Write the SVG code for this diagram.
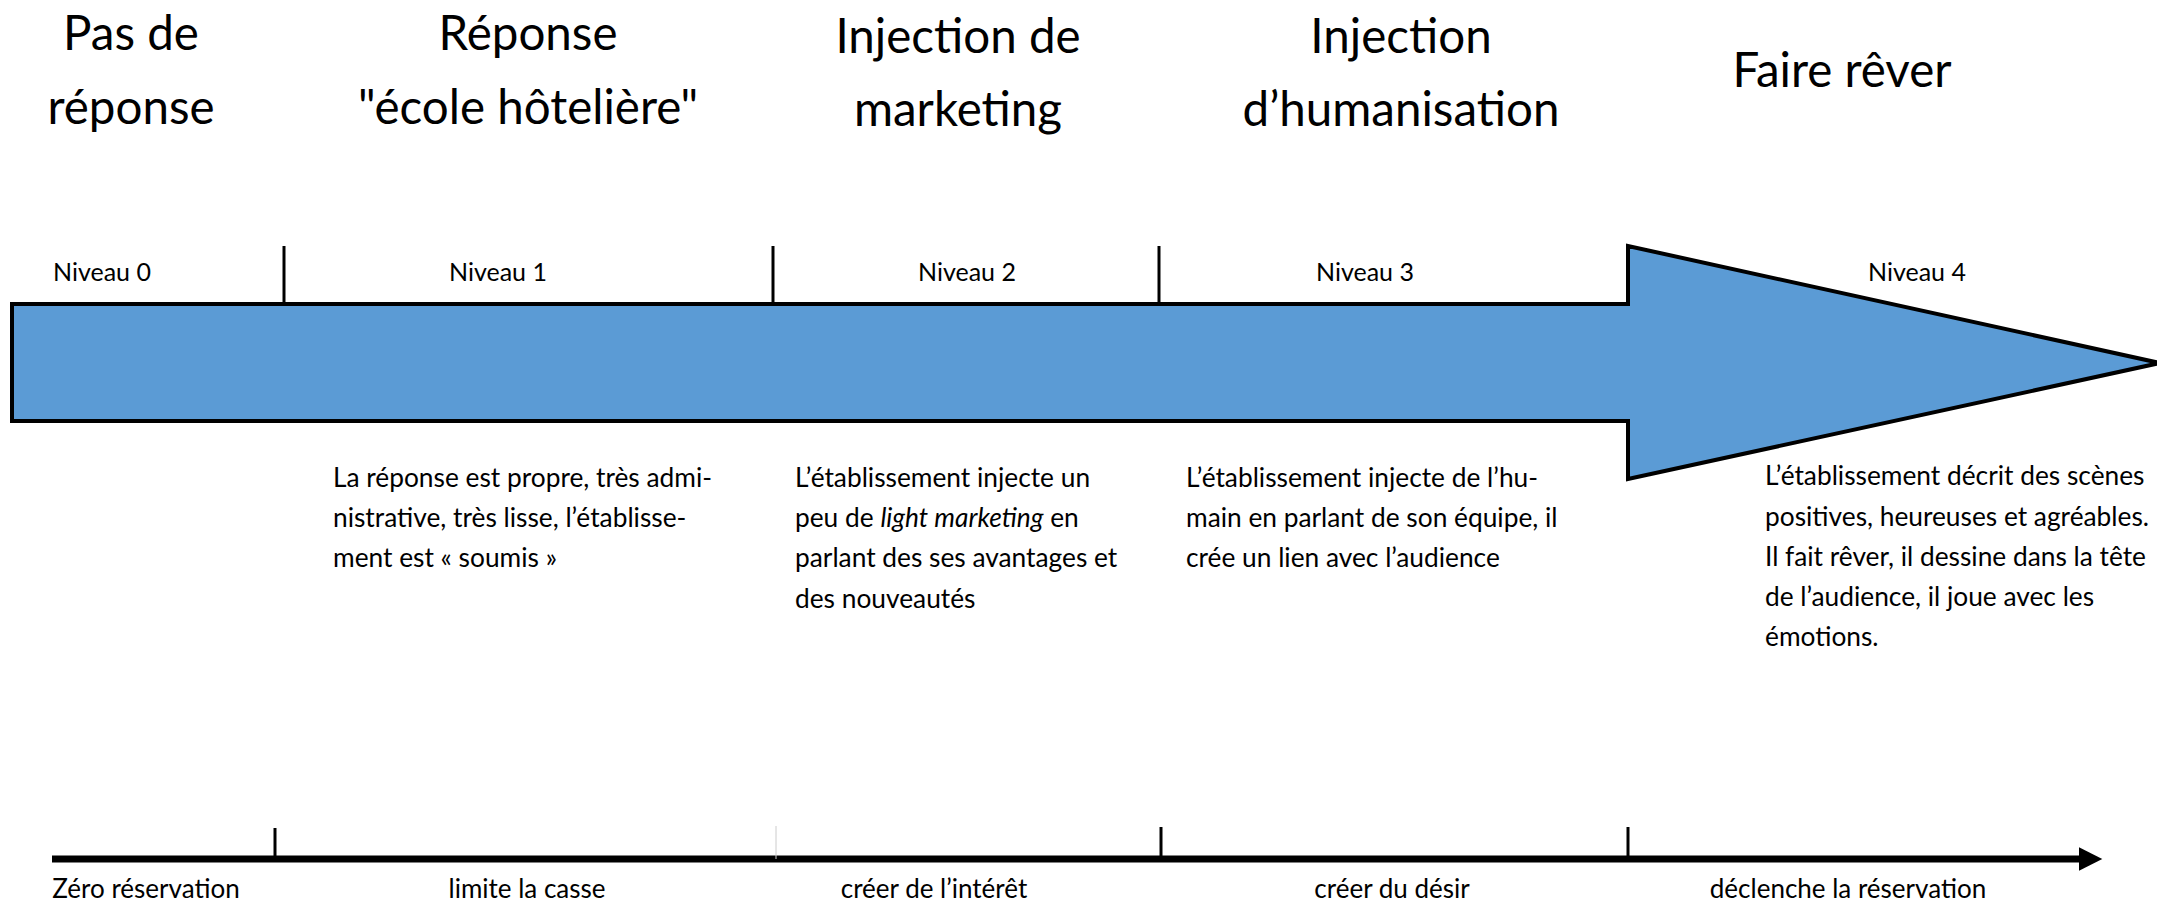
<svg xmlns="http://www.w3.org/2000/svg" width="2157" height="904" viewBox="0 0 2157 904">
<style>
text{font-family:Lato,"Open Sans","Liberation Sans",sans-serif;fill:#000}
.title{font-size:47.5px;text-anchor:middle}
.lvl{font-size:25px;text-anchor:middle}
.desc{font-size:26.3px}
.out{font-size:26px;text-anchor:middle}
.tick{stroke:#000;stroke-width:3}
</style>
<defs>
<marker id="ah" markerWidth="4" markerHeight="4" refX="0.5" refY="2" orient="auto" markerUnits="strokeWidth" viewBox="0 0 4 4">
<path d="M0,0.3 L3.4,2 L0,3.7 Z" fill="#000"/>
</marker>
</defs>
<g id="titles">
<text class="title" x="131" y="50">Pas de</text>
<text class="title" x="131" y="124">réponse</text>
<text class="title" x="528" y="50">Réponse</text>
<text class="title" x="528" y="124">"école hôtelière"</text>
<text class="title" x="958" y="53">Injection de</text>
<text class="title" x="958" y="126">marketing</text>
<text class="title" x="1401" y="53">Injection</text>
<text class="title" x="1401" y="126">d’humanisation</text>
<text class="title" x="1842" y="87">Faire rêver</text>
</g>
<g id="main-arrow">
<polygon points="12,304 1628,304 1628,246 2160,363 1628,479 1628,421 12,421" fill="#5B9BD5" stroke="#000" stroke-width="4" stroke-linejoin="miter"/>
</g>
<g id="levels">
<line class="tick" x1="284" y1="246" x2="284" y2="304"/>
<line class="tick" x1="773" y1="246" x2="773" y2="304"/>
<line class="tick" x1="1159" y1="246" x2="1159" y2="304"/>
<text class="lvl" x="102" y="281">Niveau 0</text>
<text class="lvl" x="498" y="281">Niveau 1</text>
<text class="lvl" x="967" y="281">Niveau 2</text>
<text class="lvl" x="1365" y="281">Niveau 3</text>
<text class="lvl" x="1917" y="281">Niveau 4</text>
</g>
<g id="desc1">
<text class="desc" x="333" y="487">La réponse est propre, très admi-</text>
<text class="desc" x="333" y="527">nistrative, très lisse, l’établisse-</text>
<text class="desc" x="333" y="567">ment est « soumis »</text>
</g>
<g id="desc2">
<text class="desc" x="795" y="487">L’établissement injecte un</text>
<text class="desc" x="795" y="527">peu de <tspan font-style="italic">light marketing</tspan> en</text>
<text class="desc" x="795" y="567">parlant des ses avantages et</text>
<text class="desc" x="795" y="608">des nouveautés</text>
</g>
<g id="desc3">
<text class="desc" x="1186" y="487">L’établissement injecte de l’hu-</text>
<text class="desc" x="1186" y="527">main en parlant de son équipe, il</text>
<text class="desc" x="1186" y="567">crée un lien avec l’audience</text>
</g>
<g id="desc4">
<text class="desc" x="1765" y="485">L’établissement décrit des scènes</text>
<text class="desc" x="1765" y="526">positives, heureuses et agréables.</text>
<text class="desc" x="1765" y="566">Il fait rêver, il dessine dans la tête</text>
<text class="desc" x="1765" y="606">de l’audience, il joue avec les</text>
<text class="desc" x="1765" y="646">émotions.</text>
</g>
<g id="connectors">
<line x1="52" y1="859" x2="2082" y2="859" stroke="#000" stroke-width="7" marker-end="url(#ah)"/>
<line class="tick" x1="275" y1="828" x2="275" y2="859"/>
<line x1="776" y1="826" x2="776" y2="859" stroke="#ccc" stroke-width="1"/>
<line class="tick" x1="1161" y1="827" x2="1161" y2="859"/>
<line class="tick" x1="1628" y1="827" x2="1628" y2="859"/>
</g>
<g id="outcomes">
<text class="out" x="146" y="898">Zéro réservation</text>
<text class="out" x="527" y="898">limite la casse</text>
<text class="out" x="934" y="898">créer de l’intérêt</text>
<text class="out" x="1392" y="898">créer du désir</text>
<text class="out" x="1848" y="898">déclenche la réservation</text>
</g>
</svg>
